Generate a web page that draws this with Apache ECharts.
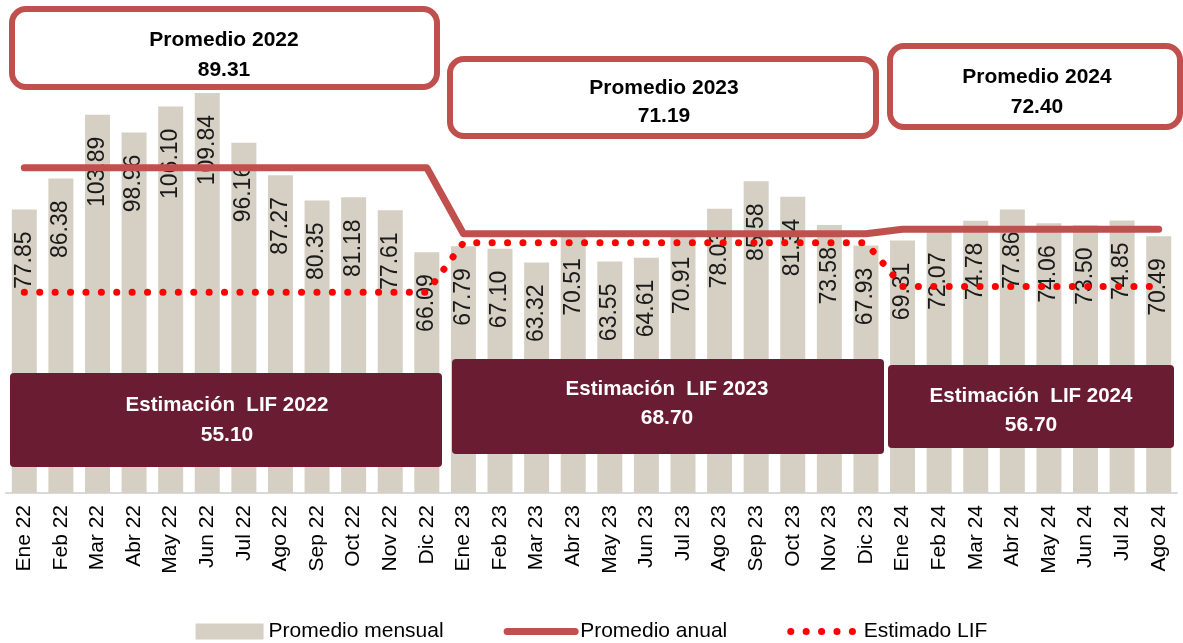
<!DOCTYPE html>
<html>
<head>
<meta charset="utf-8">
<script src="https://cdn.jsdelivr.net/npm/echarts@6/dist/echarts.min.js"></script>
<style>html,body{margin:0;padding:0;background:#fff}#c{width:1183px;height:643px}</style>
</head>
<body>
<div id="c"></div>
<script>
const categories = ['Ene 22','Feb 22','Mar 22','Abr 22','May 22','Jun 22','Jul 22','Ago 22','Sep 22','Oct 22','Nov 22','Dic 22',
  'Ene 23','Feb 23','Mar 23','Abr 23','May 23','Jun 23','Jul 23','Ago 23','Sep 23','Oct 23','Nov 23','Dic 23',
  'Ene 24','Feb 24','Mar 24','Abr 24','May 24','Jun 24','Jul 24','Ago 24'];
const promedioMensual = [77.85,86.38,103.89,98.96,106.10,109.84,96.16,87.27,80.35,81.18,77.61,66.09,
  67.79,67.10,63.32,70.51,63.55,64.61,70.91,78.03,85.58,81.34,73.58,67.93,
  69.31,72.07,74.78,77.86,74.06,73.50,74.85,70.49];
const promedioAnual = [89.31,89.31,89.31,89.31,89.31,89.31,89.31,89.31,89.31,89.31,89.31,89.31,
  71.19,71.19,71.19,71.19,71.19,71.19,71.19,71.19,71.19,71.19,71.19,71.19,
  72.40,72.40,72.40,72.40,72.40,72.40,72.40,72.40];
const estimadoLIF = [55.10,55.10,55.10,55.10,55.10,55.10,55.10,55.10,55.10,55.10,55.10,55.10,
  68.70,68.70,68.70,68.70,68.70,68.70,68.70,68.70,68.70,68.70,68.70,68.70,
  56.70,56.70,56.70,56.70,56.70,56.70,56.70,56.70];
const seriesNames = ['Promedio mensual','Promedio anual','Estimado LIF'];
const promedioBoxes = [['Promedio 2022','89.31'],['Promedio 2023','71.19'],['Promedio 2024','72.40']];
const lifBoxes = [['Estimación  LIF 2022','55.10'],['Estimación  LIF 2023','68.70'],['Estimación  LIF 2024','56.70']];

const FONT = "'Liberation Sans', Arial, sans-serif";
const chart = echarts.init(document.getElementById('c'), null, {renderer:'canvas'});

// layout of annotation boxes (pixels)
const promLayout = [
  {x:12, y:9, w:425, h:78, t1:40, t2:70, cx:224},
  {x:450, y:59, w:426, h:77, t1:88, t2:116, cx:664},
  {x:890, y:46, w:290, h:81, t1:77, t2:107, cx:1037}
];
const lifLayout = [
  {x:10, y:373, w:432, h:94, t1:405, t2:435, cx:227},
  {x:452, y:359, w:432, h:95, t1:389, t2:418, cx:667},
  {x:888, y:365, w:286, h:83, t1:396, t2:425, cx:1031}
];
const graphics = [];
promLayout.forEach((b,i)=>{
  graphics.push({type:'rect', z:100, shape:{x:b.x,y:b.y,width:b.w,height:b.h,r:14},
    style:{fill:'#fff', stroke:'#c0504d', lineWidth:6}});
  graphics.push({type:'text', z:101, style:{text:promedioBoxes[i][0], x:b.cx, y:b.t1, align:'center', verticalAlign:'middle', font:"bold 21px "+FONT, fill:'#000'}});
  graphics.push({type:'text', z:101, style:{text:promedioBoxes[i][1], x:b.cx, y:b.t2, align:'center', verticalAlign:'middle', font:"bold 21px "+FONT, fill:'#000'}});
});
lifLayout.forEach((b,i)=>{
  graphics.push({type:'rect', z:100, shape:{x:b.x,y:b.y,width:b.w,height:b.h,r:4},
    style:{fill:'#691c32'}});
  graphics.push({type:'text', z:101, style:{text:lifBoxes[i][0], x:b.cx, y:b.t1, align:'center', verticalAlign:'middle', font:"bold 20.5px "+FONT, fill:'#fff'}});
  graphics.push({type:'text', z:101, style:{text:lifBoxes[i][1], x:b.cx, y:b.t2, align:'center', verticalAlign:'middle', font:"bold 21px "+FONT, fill:'#fff'}});
});

const hiddenSymbol = {color:'rgba(0,0,0,0)', borderWidth:0, opacity:0};

chart.setOption({
  animation:false,
  backgroundColor:'#fff',
  textStyle:{fontFamily:FONT},
  grid:{left:6, right:6, top:56, bottom:150, containLabel:false},
  legend:{
    top:616, left:'center', itemWidth:68, itemHeight:16, itemGap:60,
    textStyle:{fontSize:21, color:'#000', fontFamily:FONT},
    lineStyle:{width:'inherit'},
    data:[
      {name:seriesNames[0], icon:'rect'},
      {name:seriesNames[1], itemStyle:hiddenSymbol},
      {name:seriesNames[2], itemStyle:hiddenSymbol}
    ]
  },
  xAxis:{
    type:'category', data:categories,
    axisLine:{lineStyle:{color:'#d9d9d9', width:2}},
    axisTick:{show:false},
    axisLabel:{rotate:90, margin:12, fontSize:21, color:'#000', fontFamily:FONT, interval:0}
  },
  yAxis:{type:'value', min:0, max:120, show:false, splitLine:{show:false}},
  graphic:graphics,
  series:[
    {name:seriesNames[0], type:'bar', data:promedioMensual, barWidth:25,
      itemStyle:{color:'#d6d0c4'},
      label:{show:true, position:'insideTop', distance:22, rotate:90, align:'right', verticalAlign:'middle',
        fontSize:23, color:'#1a1a1a', fontFamily:FONT, formatter:(p)=>p.value.toFixed(2)}},
    {name:seriesNames[1], type:'line', data:promedioAnual, symbol:'none', showSymbol:false,
      itemStyle:{color:'#c0504d'},
      lineStyle:{color:'#c0504d', width:7, cap:'round', join:'round'}},
    {name:seriesNames[2], type:'line', data:estimadoLIF, symbol:'none', showSymbol:false,
      itemStyle:{color:'#ff0000'},
      lineStyle:{color:'#ff0000', width:7, type:[0.1,15.3], cap:'round'}}
  ]
});
</script>
</body>
</html>
